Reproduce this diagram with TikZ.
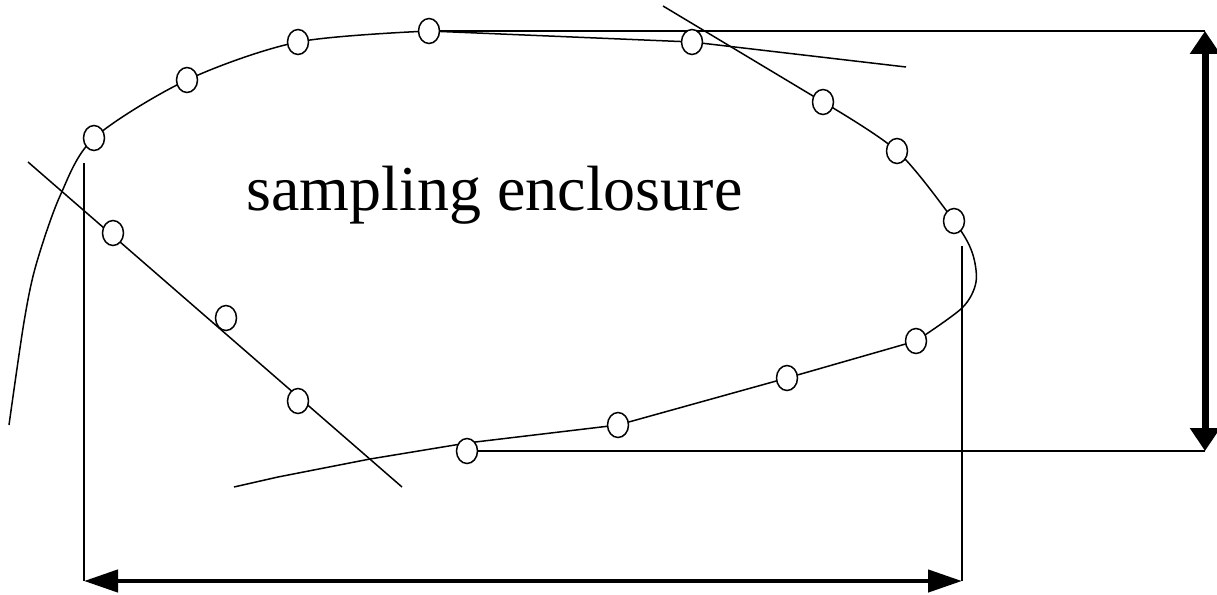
\documentclass[tikz,border=0pt]{standalone}
\usepackage{fontspec}
\setmainfont{Liberation Serif}
\usetikzlibrary{arrows.meta,shapes.geometric}
\tikzset{
  thin line/.style={line width=1.5pt, line join=round},
  sample/.style={ellipse, draw, line width=1.5pt, fill=white, minimum width=21pt, minimum height=25pt, inner sep=0pt},
  vdim/.style={line width=7pt, {Triangle[length=23pt,width=29pt]}-{Triangle[length=23pt,width=29pt]}},
  hdim/.style={line width=4.5pt, {Triangle[length=34pt,width=22pt]}-{Triangle[length=34pt,width=22pt]}},
  label text/.style={font=\fontsize{64}{70}\selectfont, anchor=base, inner sep=0pt}
}
\begin{document}
\begin{tikzpicture}[x=1pt,y=-1pt]
\useasboundingbox (0,0) rectangle (1217,594);
% coordinates
\coordinate (vtop) at (1205,31);
\coordinate (vbot) at (1205,451);
\coordinate (hl) at (84,581);
\coordinate (hr) at (962,581);
\coordinate (lt) at (84,163);
\coordinate (rt) at (962,246);
\coordinate (dA) at (28,162);
\coordinate (dB) at (402,487);
\coordinate (tA) at (663,6);
\coordinate (tB) at (906,67);
\coordinate (bA) at (234,487);
% curves
\draw[thin line] plot[smooth] coordinates {(9,425) (24,322) (36,265) (60,196) (94,138) (187,80) (298,42) (429,31)} -- (692,42) -- (tB);
\draw[thin line] (tA) -- (823,102) plot[smooth] coordinates {(823,102) (897,151) (954,221) (972,252) (976,282) (962,308) (916,341)} -- (787,378) -- (618,425) -- (467,443) -- (370,459) -- (278,477) -- (bA);
\draw[thin line] (dA) -- (dB);
% extension lines
\draw[thin line] (429,31) -- (vtop);
\draw[thin line] (467,451) -- (vbot);
\draw[thin line] (lt) -- (hl);
\draw[thin line] (rt) -- (hr);
% sample points
\node[sample] (c1) at (94,138) {};
\node[sample] (c2) at (187,80) {};
\node[sample] (c3) at (298,42) {};
\node[sample] (c4) at (429,31) {};
\node[sample] (c5) at (692,42) {};
\node[sample] (c6) at (823,102) {};
\node[sample] (c7) at (897,151) {};
\node[sample] (c8) at (954,221) {};
\node[sample] (c9) at (916,341) {};
\node[sample] (c10) at (787,378) {};
\node[sample] (c11) at (618,425) {};
\node[sample] (c12) at (467,451) {};
\node[sample] (c13) at (298,401) {};
\node[sample] (c14) at (226,318) {};
\node[sample] (c15) at (113,233) {};
% dimension arrows
\draw[vdim] (vtop) -- (vbot);
\draw[hdim] (hl) -- (hr);
% label
\node[label text] (lbl) at (494.5,210) {sampling enclosure};
\end{tikzpicture}
\end{document}
